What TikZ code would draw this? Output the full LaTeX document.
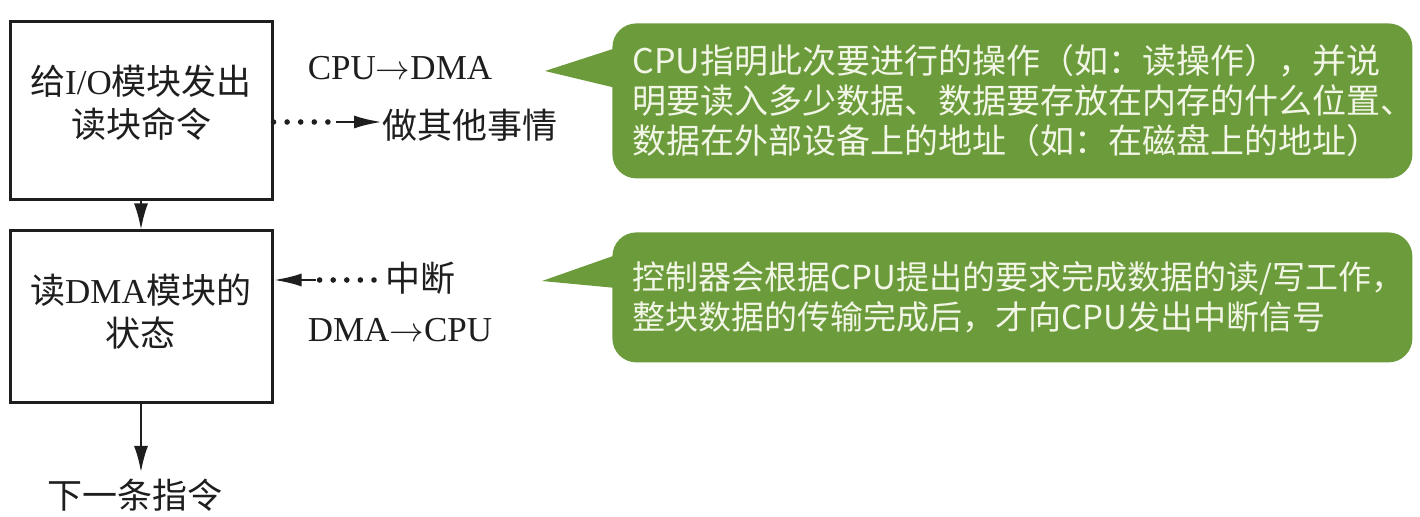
\documentclass[tikz,border=0pt]{standalone}
\usepackage{fontspec}
\setmainfont{Liberation Serif}
\newfontfamily\cjk{Noto Sans CJK SC}
\usetikzlibrary{arrows.meta}
\definecolor{bubblegreen}{RGB}{107,155,58}
\definecolor{bubbletext}{RGB}{242,246,230}
\definecolor{inkgray}{RGB}{30,30,30}
\begin{document}
\begin{tikzpicture}[x=0.5pt,y=-0.5pt,
  flowbox/.style={draw=inkgray, line width=1.5pt, minimum width=131pt, inner sep=0pt},
  boxtext/.style={inner sep=0pt, align=center, text=inkgray, font=\fontsize{17.5}{21.5}\selectfont},
  lbl/.style={inner sep=0pt, text=inkgray, font=\fontsize{17.5}{21}\selectfont},
  bubble/.style={fill=bubblegreen, rounded corners=12pt, anchor=north west, minimum width=400pt, inner xsep=10pt, inner ysep=0pt, text width=380pt, align=left, text=bubbletext, font=\cjk\fontsize{17}{20}\selectfont},
  flow/.style={draw=inkgray, line width=1pt, -{Latex[length=13pt,width=7pt]}},
  dotflow/.style={draw=inkgray, line width=1.4pt, -{Latex[length=14pt,width=6.5pt]}},
  dots/.style={draw=inkgray, line width=2.8pt, line cap=round, dash pattern=on 0pt off 6.8pt}
]
\useasboundingbox (0,0) rectangle (1420,517);

% left flow
\node[flowbox, minimum height=89pt] (b1) at (141,111) {};
\node[boxtext] (b1t) at (141,103) {{\cjk 给}I/O{\cjk 模块发出}\\{\cjk 读块命令}};
\node[flowbox, minimum height=86pt] (b2) at (141,317) {};
\node[boxtext] (b2t) at (141,312) {{\cjk 读}DMA{\cjk 模块的}\\{\cjk 状态}};
\node[lbl] (next) at (135,495) {\cjk 下一条指令};
\coordinate (ntip) at (141,472);
\draw[flow] (b1.south) -- (b2.north);
\draw[flow] (b2.south) -- (ntip);

% middle labels
\node[lbl] (c2d) at (400,68) {CPU$\rightarrow$DMA};
\node[lbl, anchor=west] (other) at (382,125) {\cjk 做其他事情};
\coordinate (d1) at (336,122);
\draw[dots] (b1.east |- d1) -- (d1);
\draw[dotflow] (d1) -- (other.west |- d1);

\node[lbl, anchor=west] (intr) at (385,278) {\cjk 中断};
\coordinate (d2) at (316,280);
\coordinate (d2s) at (374,280);
\draw[dots] (d2s) -- (d2);
\draw[dotflow] (d2) -- (b2.east |- d2);
\node[lbl] (d2c) at (400,330) {DMA$\rightarrow$CPU};

% bubbles
\node[bubble, minimum height=77.5pt] (bub1) at (612,23) {CPU指明此次要进行的操作（如：读操作），并说\\明要读入多少数据、数据要存放在内存的什么位置、\\数据在外部设备上的地址（如：在磁盘上的地址）};
\fill[bubblegreen] (545,71) -- (616,48) -- (616,88) -- cycle;

\node[bubble, minimum height=65pt, font=\cjk\fontsize{16.5}{20}\selectfont] (bub2) at (612,232) {控制器会根据CPU提出的要求完成数据的读/写工作，\\整块数据的传输完成后，才向CPU发出中断信号};
\fill[bubblegreen] (542,281) -- (616,255) -- (616,288) -- cycle;
\end{tikzpicture}
\end{document}
